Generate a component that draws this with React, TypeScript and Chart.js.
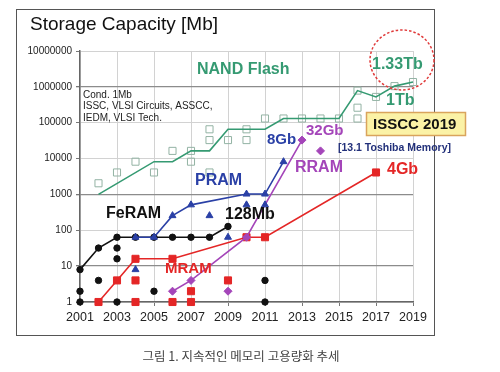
import React, { useEffect, useRef } from "react";
import { Chart, registerables } from "chart.js";

Chart.register(...registerables);

// ---- Data ----
const yTickValues = [1, 10, 100, 1000, 10000, 100000, 1000000, 10000000];
const darkGridValues = [10, 1000, 1000000];

const nandLineYears = [2002, 2005, 2006, 2007, 2008, 2009, 2010, 2011, 2012, 2013, 2014, 2015, 2016, 2017, 2018, 2019];
const nandLineValues = [1000, 8192, 8192, 16384, 16384, 65536, 65536, 65536, 131072, 131072, 131072, 131072, 786432, 524288, 1048576, 1363149];

const nandDotYears = [2002, 2003, 2004, 2005, 2006, 2007, 2007, 2008, 2008, 2008, 2009, 2010, 2010, 2011, 2012, 2013, 2014, 2015, 2016, 2016, 2016, 2017, 2018, 2019];
const nandDotValues = [2048, 4096, 8192, 4096, 16384, 16384, 8192, 65536, 32768, 4096, 32768, 65536, 32768, 131072, 131072, 131072, 131072, 131072, 786432, 262144, 131072, 524288, 1048576, 1363149];

const feramLineYears = [2001, 2002, 2003, 2004, 2005, 2006, 2007, 2008, 2009];
const feramLineValues = [8, 32, 64, 64, 64, 64, 64, 64, 128];
const feramDotYears = [2001, 2001, 2002, 2003, 2003, 2003, 2005, 2011, 2011];
const feramDotValues = [1, 2, 4, 1, 16, 32, 2, 4, 1];

const pramLineYears = [2004, 2005, 2006, 2007, 2010, 2011, 2012];
const pramLineValues = [64, 64, 256, 512, 1024, 1024, 8192];
const pramDotYears = [2004, 2008, 2009, 2010, 2011];
const pramDotValues = [8, 256, 64, 512, 512];

const mramLineYears = [2002, 2003, 2004, 2006, 2010, 2011, 2017];
const mramLineValues = [1, 4, 16, 16, 64, 64, 4096];
const mramDotYears = [2004, 2004, 2006, 2007, 2007, 2009];
const mramDotValues = [4, 1, 1, 2, 1, 4];

const rramLineYears = [2006, 2007, 2010, 2013];
const rramLineValues = [2, 4, 64, 32768];
const rramDotYears = [2009, 2014];
const rramDotValues = [2, 16384];

// ---- Styles ----
const FONT = "'Liberation Sans', Arial, sans-serif";
const GREEN = "#359a72";
const GREEN_SQ = "#93b3a4";
const BLUE = "#2a40a6";
const RED = "#e42626";
const PURPLE = "#a445b9";
const BLACK = "#111111";

function pts(xs: number[], ys: number[]) {
  return xs.map((x, i) => ({ x, y: ys[i] }));
}

const decor = {
  id: "decor",
  beforeDraw(chart: any) {
    const ctx = chart.ctx;
    ctx.save();
    ctx.fillStyle = "#ffffff";
    ctx.fillRect(0, 0, chart.width, chart.height);
    ctx.restore();
  },
  afterDraw(chart: any) {
    const ctx = chart.ctx as CanvasRenderingContext2D;
    ctx.save();
    // frame
    ctx.strokeStyle = "#555555";
    ctx.lineWidth = 1;
    ctx.strokeRect(16.5, 9.5, 418, 326);

    const text = (s: string, x: number, y: number, font: string, color: string, align: CanvasTextAlign = "left") => {
      ctx.font = font;
      ctx.fillStyle = color;
      ctx.textAlign = align;
      ctx.textBaseline = "middle";
      ctx.fillText(s, x, y);
    };

    text("Storage Capacity [Mb]", 30, 25, `19px ${FONT}`, "#111");
    text("Cond. 1Mb", 83, 95, `10px ${FONT}`, "#222");
    text("ISSC, VLSI Circuits, ASSCC,", 83, 106.5, `10px ${FONT}`, "#222");
    text("IEDM, VLSI Tech.", 83, 118, `10px ${FONT}`, "#222");

    text("NAND Flash", 197, 70, `bold 16px ${FONT}`, GREEN);
    text("1.33Tb", 372, 65, `bold 16px ${FONT}`, GREEN);
    text("1Tb", 386, 101, `bold 16px ${FONT}`, GREEN);

    // dashed circle
    ctx.beginPath();
    ctx.setLineDash([2.5, 2]);
    ctx.strokeStyle = "#e03a3a";
    ctx.lineWidth = 1.5;
    ctx.ellipse(402, 60, 32, 30, 0, 0, Math.PI * 2);
    ctx.stroke();
    ctx.setLineDash([]);

    // ISSCC box
    ctx.fillStyle = "#fbf2a6";
    ctx.fillRect(366, 112, 100, 24);
    ctx.strokeStyle = "#d9a45c";
    ctx.lineWidth = 1.5;
    ctx.strokeRect(366.5, 112.5, 99, 23);
    text("ISSCC 2019", 373, 124.5, `bold 15px ${FONT}`, "#111");
    text("[13.1 Toshiba Memory]", 338, 148, `bold 10.5px ${FONT}`, "#22307a");

    text("8Gb", 267, 140, `bold 15px ${FONT}`, BLUE);
    text("32Gb", 306, 131, `bold 15px ${FONT}`, PURPLE);
    text("RRAM", 295, 168, `bold 16px ${FONT}`, PURPLE);
    text("4Gb", 387, 170, `bold 16px ${FONT}`, RED);
    text("PRAM", 195, 181, `bold 16px ${FONT}`, BLUE);
    text("FeRAM", 106, 214, `bold 16px ${FONT}`, BLACK);
    text("128Mb", 225, 215, `bold 16px ${FONT}`, BLACK);
    text("MRAM", 165, 269, `bold 15px ${FONT}`, RED);

    text("그림 1. 지속적인 메모리 고용량화 추세", 241, 356, `12.5px 'Noto Sans CJK KR', sans-serif`, "#444", "center");
    ctx.restore();
  },
};

export default function App() {
  const ref = useRef<HTMLCanvasElement | null>(null);

  useEffect(() => {
    if (!ref.current) return;
    const lineDs = (label: string, xs: number[], ys: number[], color: string, style: any, radius: number) => ({
      label,
      data: pts(xs, ys),
      showLine: true,
      borderColor: color,
      backgroundColor: color,
      borderWidth: 1.6,
      pointStyle: style,
      pointRadius: radius,
      pointBorderWidth: 1,
      pointBackgroundColor: color,
      pointBorderColor: color,
      clip: false,
    });
    const dotDs = (label: string, xs: number[], ys: number[], color: string, style: any, radius: number) => ({
      label,
      data: pts(xs, ys),
      showLine: false,
      pointStyle: style,
      pointRadius: radius,
      pointBorderWidth: 1,
      pointBackgroundColor: color,
      pointBorderColor: color,
      clip: false,
    });

    const chart = new Chart(ref.current, {
      type: "scatter",
      data: {
        datasets: [
          lineDs("PRAM", pramLineYears, pramLineValues, BLUE, "triangle", 4),
          dotDs("PRAM dots", pramDotYears, pramDotValues, BLUE, "triangle", 4),
          lineDs("RRAM", rramLineYears, rramLineValues, PURPLE, "rectRot", 4),
          dotDs("RRAM dots", rramDotYears, rramDotValues, PURPLE, "rectRot", 4),
          lineDs("MRAM", mramLineYears, mramLineValues, RED, "rect", 5),
          dotDs("MRAM dots", mramDotYears, mramDotValues, RED, "rect", 5),
          lineDs("FeRAM", feramLineYears, feramLineValues, BLACK, "circle", 3.2),
          dotDs("FeRAM dots", feramDotYears, feramDotValues, BLACK, "circle", 3.2),
          {
            label: "NAND Flash",
            data: pts(nandLineYears, nandLineValues),
            showLine: true,
            borderColor: GREEN,
            borderWidth: 1.6,
            pointRadius: 0,
            clip: false,
          },
          {
            label: "NAND dots",
            data: pts(nandDotYears, nandDotValues),
            showLine: false,
            pointStyle: "rect",
            pointRadius: 5,
            pointBorderWidth: 1,
            pointBackgroundColor: "rgba(255,255,255,0)",
            pointBorderColor: GREEN_SQ,
            clip: false,
          },
        ],
      },
      options: {
        animation: false,
        responsive: false,
        devicePixelRatio: 1,
        layout: { padding: { top: 51, right: 87, left: 0, bottom: 0 } },
        plugins: { legend: { display: false }, tooltip: { enabled: false } },
        scales: {
          x: {
            type: "linear",
            min: 2001,
            max: 2019,
            afterFit: (s: any) => {
              s.height = 70;
            },
            ticks: {
              stepSize: 2,
              autoSkip: false,
              maxRotation: 0,
              padding: 4,
              color: "#222",
              font: { family: FONT, size: 12.5 },
              callback: (v: any) => String(v),
            },
            grid: { color: "#d2d2d2", lineWidth: 1, tickLength: 4, tickColor: "#777" },
            border: { display: true, color: "#666", width: 1.5 },
          },
          y: {
            type: "logarithmic",
            min: 1,
            max: 10000000,
            afterFit: (s: any) => {
              s.width = 80;
            },
            afterBuildTicks: (s: any) => {
              s.ticks = yTickValues.map((v) => ({ value: v }));
            },
            ticks: {
              autoSkip: false,
              padding: 4,
              color: "#222",
              font: { family: FONT, size: 10 },
              callback: (v: any) => String(v),
            },
            grid: {
              color: (c: any) => (c.tick && darkGridValues.includes(c.tick.value) ? "#8c8c8c" : "#d2d2d2"),
              lineWidth: (c: any) => (c.tick && darkGridValues.includes(c.tick.value) ? 1.3 : 1),
              tickLength: 4,
              tickColor: "#777",
            },
            border: { display: true, color: "#666", width: 1.5 },
          },
        },
      },
      plugins: [decor],
    } as any);
    return () => chart.destroy();
  }, []);

  return (
    <canvas
      ref={ref}
      width={500}
      height={372}
      style={{ position: "absolute", left: 0, top: 0, width: 500, height: 372 }}
    />
  );
}
